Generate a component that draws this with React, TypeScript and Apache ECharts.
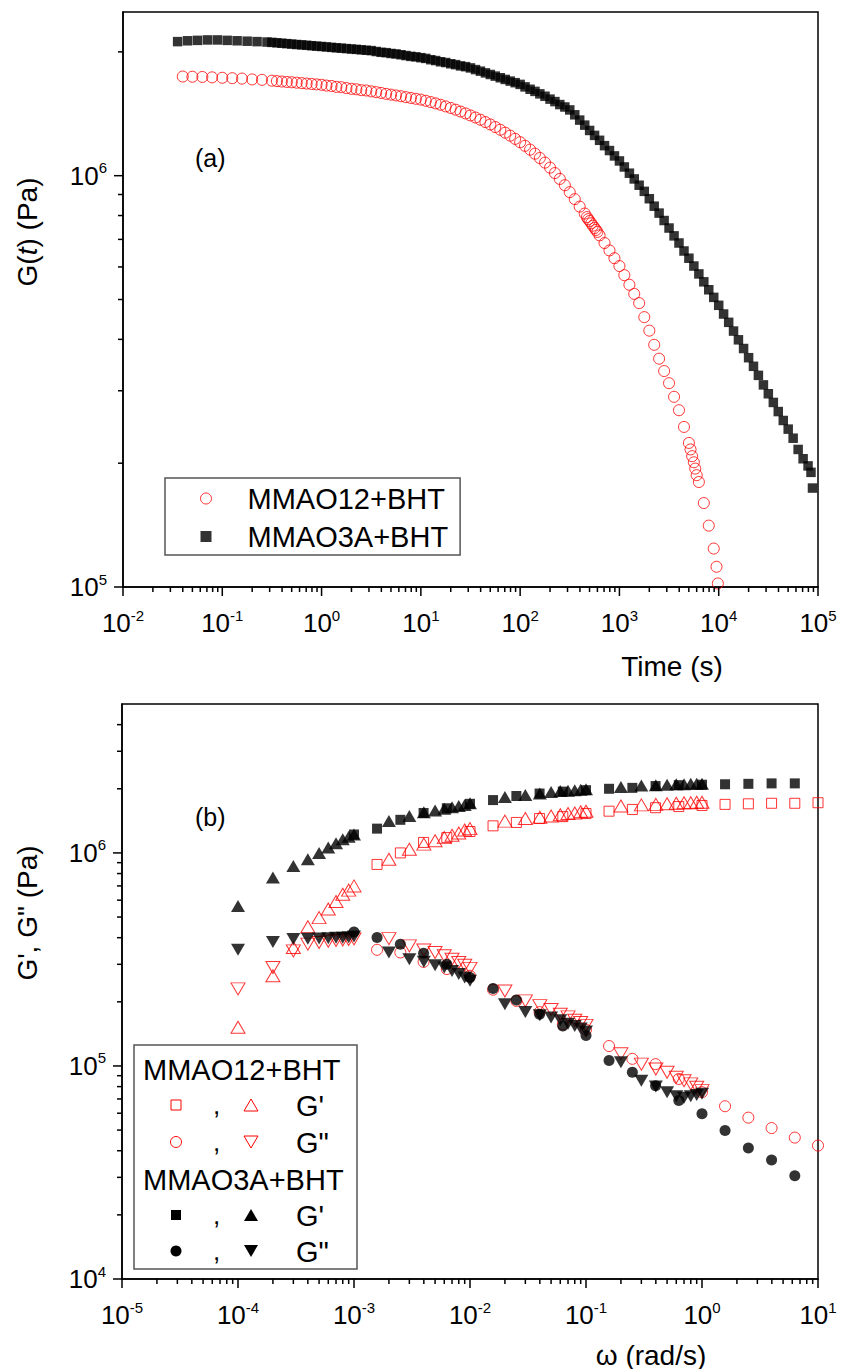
import React, { useEffect, useRef } from 'react';
import * as echarts from 'echarts';

const FONT = "'Liberation Sans', Arial, Helvetica, sans-serif";

// ---------- Panel (a): stress relaxation G(t) ----------
const redT = [
  0.04, 0.05, 0.063, 0.079, 0.1, 0.126, 0.158, 0.2, 0.251, 0.316,
  0.355, 0.398, 0.447, 0.501, 0.562, 0.631, 0.708, 0.794, 0.891, 1,
  1.12, 1.26, 1.41, 1.58, 1.78, 2, 2.24, 2.51, 2.82, 3.16,
  3.55, 3.98, 4.47, 5.01, 5.62, 6.31, 7.08, 7.94, 8.91, 10,
  11.2, 12.6, 14.1, 15.8, 17.8, 20, 22.4, 25.1, 28.2, 31.6,
  35.5, 39.8, 44.7, 50.1, 56.2, 63.1, 70.8, 79.4, 89.1, 100,
  112, 126, 141, 158, 178, 200, 224, 251, 282, 316,
  355, 398, 447, 470, 485, 501, 520, 540, 562, 580, 600,
  631, 708, 794, 891, 1000, 1120, 1260, 1410, 1580, 1780,
  2000, 2240, 2510, 2820, 3160, 3550, 3980, 4470, 5010, 5200, 5400,
  5620, 5800, 6000, 6310, 7080, 7940, 8910, 9500, 9800,
];
const redG = [
  1.742e6, 1.74e6, 1.738e6, 1.734e6, 1.73e6, 1.726e6, 1.722e6, 1.714e6, 1.71e6, 1.702e6,
  1.698e6, 1.694e6, 1.69e6, 1.687e6, 1.683e6, 1.679e6, 1.675e6, 1.671e6, 1.667e6, 1.663e6,
  1.656e6, 1.652e6, 1.644e6, 1.641e6, 1.633e6, 1.626e6, 1.622e6, 1.614e6, 1.611e6, 1.603e6,
  1.596e6, 1.589e6, 1.581e6, 1.574e6, 1.567e6, 1.56e6, 1.552e6, 1.545e6, 1.538e6, 1.531e6,
  1.521e6, 1.51e6, 1.499e6, 1.487e6, 1.474e6, 1.461e6, 1.447e6, 1.432e6, 1.417e6, 1.401e6,
  1.385e6, 1.368e6, 1.35e6, 1.332e6, 1.313e6, 1.293e6, 1.272e6, 1.251e6, 1.229e6, 1.206e6,
  1.182e6, 1.157e6, 1.131e6, 1.104e6, 1.076e6, 1.046e6, 1.015e6, 9.82e5, 9.48e5, 9.12e5,
  8.77e5, 8.41e5, 8.09e5, 7.93e5, 7.84e5, 7.76e5, 7.66e5, 7.56e5, 7.46e5, 7.38e5, 7.3e5,
  7.16e5, 6.86e5, 6.58e5, 6.3e5, 6.03e5, 5.73e5, 5.43e5, 5.16e5, 4.9e5, 4.53e5,
  4.2e5, 3.88e5, 3.59e5, 3.35e5, 3.13e5, 2.9e5, 2.69e5, 2.45e5, 2.24e5, 2.16e5, 2.08e5,
  2.01e5, 1.94e5, 1.87e5, 1.8e5, 1.6e5, 1.41e5, 1.24e5, 1.12e5, 1.02e5,
];

const blackT = [
  0.0355, 0.0447, 0.0562, 0.0708, 0.0891, 0.112, 0.141, 0.178, 0.224, 0.282,
  0.316, 0.355, 0.398, 0.447, 0.501, 0.562, 0.631, 0.708, 0.794, 0.891,
  1, 1.12, 1.26, 1.41, 1.58, 1.78, 2, 2.24, 2.51, 2.82,
  3.16, 3.55, 3.98, 4.47, 5.01, 5.62, 6.31, 7.08, 7.94, 8.91,
  10, 11.2, 12.6, 14.1, 15.8, 17.8, 20, 22.4, 25.1, 28.2,
  31.6, 35.5, 39.8, 44.7, 50.1, 56.2, 63.1, 70.8, 79.4, 89.1,
  100, 112, 126, 141, 158, 178, 200, 224, 251, 282,
  316, 355, 398, 447, 501, 562, 631, 708, 794, 891,
  1000, 1120, 1260, 1410, 1580, 1780, 2000, 2240, 2510, 2820,
  3160, 3550, 3980, 4470, 5010, 5620, 6310, 7080, 7940, 8910,
  10000, 11200, 12600, 14100, 15800, 17800, 20000, 22400, 25100, 28200,
  31600, 35500, 39800, 44700, 50100, 56200, 63100, 70800, 79400, 85000, 88000,
];
const blackG = [
  2.118e6, 2.128e6, 2.133e6, 2.138e6, 2.138e6, 2.133e6, 2.128e6, 2.123e6, 2.118e6, 2.113e6,
  2.109e6, 2.104e6, 2.099e6, 2.094e6, 2.089e6, 2.084e6, 2.08e6, 2.075e6, 2.07e6, 2.065e6,
  2.061e6, 2.056e6, 2.051e6, 2.046e6, 2.042e6, 2.037e6, 2.032e6, 2.028e6, 2.023e6, 2.018e6,
  2.014e6, 2.004e6, 1.995e6, 1.991e6, 1.982e6, 1.977e6, 1.968e6, 1.959e6, 1.95e6, 1.945e6,
  1.936e6, 1.928e6, 1.914e6, 1.905e6, 1.892e6, 1.884e6, 1.871e6, 1.862e6, 1.849e6, 1.841e6,
  1.828e6, 1.811e6, 1.795e6, 1.778e6, 1.762e6, 1.746e6, 1.73e6, 1.714e6, 1.698e6, 1.683e6,
  1.667e6, 1.644e6, 1.622e6, 1.603e6, 1.581e6, 1.56e6, 1.535e6, 1.514e6, 1.489e6, 1.469e6,
  1.445e6, 1.406e6, 1.365e6, 1.327e6, 1.288e6, 1.253e6, 1.219e6, 1.183e6, 1.151e6, 1.117e6,
  1.086e6, 1.05e6, 1.014e6, 9.82e5, 9.48e5, 9.16e5, 8.79e5, 8.43e5, 8.11e5, 7.78e5,
  7.46e5, 7.14e5, 6.86e5, 6.56e5, 6.3e5, 6.03e5, 5.77e5, 5.52e5, 5.28e5, 5.06e5,
  4.84e5, 4.61e5, 4.4e5, 4.19e5, 3.99e5, 3.8e5, 3.61e5, 3.44e5, 3.27e5, 3.1e5,
  2.95e5, 2.81e5, 2.67e5, 2.54e5, 2.42e5, 2.3e5, 2.16e5, 2.05e5, 1.97e5, 1.9e5, 1.74e5,
];

// ---------- Panel (b): dynamic moduli ----------
const redSweepW = [1.58e-3, 2.51e-3, 3.98e-3, 6.31e-3, 1e-2, 1.58e-2, 2.51e-2, 3.98e-2, 6.31e-2, 0.1, 0.158, 0.251, 0.398, 0.631, 1, 1.58, 2.51, 3.98, 6.31, 10];
const redGpSq = [8.83e5, 1.0e6, 1.12e6, 1.18e6, 1.26e6, 1.34e6, 1.39e6, 1.45e6, 1.48e6, 1.53e6, 1.57e6, 1.6e6, 1.63e6, 1.65e6, 1.67e6, 1.69e6, 1.7e6, 1.71e6, 1.71e6, 1.72e6];
const redGppCi = [3.51e5, 3.41e5, 3.08e5, 2.85e5, 2.65e5, 2.28e5, 2.02e5, 1.79e5, 1.57e5, 1.48e5, 1.24e5, 1.08e5, 1.02e5, 8.69e4, 7.53e4, 6.47e4, 5.72e4, 5.11e4, 4.61e4, 4.23e4];

const blackSweepW = [1e-3, 1.58e-3, 2.51e-3, 3.98e-3, 6.31e-3, 1e-2, 1.58e-2, 2.51e-2, 3.98e-2, 6.31e-2, 0.1, 0.158, 0.251, 0.398, 0.631, 1, 1.58, 2.51, 3.98, 6.31];
const blackGpSq = [1.22e6, 1.3e6, 1.43e6, 1.54e6, 1.62e6, 1.7e6, 1.77e6, 1.85e6, 1.9e6, 1.94e6, 1.97e6, 2.0e6, 2.02e6, 2.06e6, 2.08e6, 2.09e6, 2.1e6, 2.11e6, 2.12e6, 2.12e6];
const blackGppCi = [4.25e5, 4.01e5, 3.73e5, 3.38e5, 3.0e5, 2.6e5, 2.31e5, 2.04e5, 1.75e5, 1.54e5, 1.39e5, 1.06e5, 9.34e4, 8.08e4, 6.88e4, 5.96e4, 4.98e4, 4.12e4, 3.62e4, 3.05e4];

const omegaTri = [
  1e-4, 2e-4, 3e-4, 4e-4, 5e-4, 6e-4, 7e-4, 8e-4, 9e-4, 1e-3,
  2e-3, 3e-3, 4e-3, 5e-3, 6e-3, 7e-3, 8e-3, 9e-3, 1e-2,
  2e-2, 3e-2, 4e-2, 5e-2, 6e-2, 7e-2, 8e-2, 9e-2, 0.1,
  0.2, 0.3, 0.4, 0.5, 0.6, 0.7, 0.8, 0.9, 1,
];
const redGpTri = [
  1.52e5, 2.65e5, 3.6e5, 4.5e5, 4.97e5, 5.45e5, 5.91e5, 6.4e5, 6.69e5, 7.0e5,
  9.33e5, 1.04e6, 1.1e6, 1.14e6, 1.18e6, 1.21e6, 1.24e6, 1.28e6, 1.3e6,
  1.41e6, 1.45e6, 1.47e6, 1.49e6, 1.51e6, 1.53e6, 1.54e6, 1.56e6, 1.57e6,
  1.66e6, 1.68e6, 1.69e6, 1.7e6, 1.71e6, 1.72e6, 1.72e6, 1.73e6, 1.73e6,
];
const redGppTri = [
  2.3e5, 2.9e5, 3.47e5, 3.73e5, 3.8e5, 3.85e5, 3.88e5, 3.9e5, 3.92e5, 3.95e5,
  3.96e5, 3.66e5, 3.5e5, 3.41e5, 3.29e5, 3.17e5, 3.06e5, 2.97e5, 2.87e5,
  2.25e5, 2.02e5, 1.92e5, 1.84e5, 1.75e5, 1.7e5, 1.64e5, 1.6e5, 1.55e5,
  1.14e5, 1.02e5, 9.68e4, 9.34e4, 8.85e4, 8.53e4, 8.24e4, 7.95e4, 7.66e4,
];
const blackGpTri = [
  5.64e5, 7.66e5, 8.68e5, 9.34e5, 1.0e6, 1.06e6, 1.11e6, 1.16e6, 1.19e6, 1.22e6,
  1.41e6, 1.49e6, 1.55e6, 1.58e6, 1.61e6, 1.64e6, 1.66e6, 1.68e6, 1.71e6,
  1.83e6, 1.87e6, 1.9e6, 1.93e6, 1.95e6, 1.96e6, 1.97e6, 1.98e6, 1.99e6,
  2.04e6, 2.07e6, 2.08e6, 2.09e6, 2.1e6, 2.1e6, 2.11e6, 2.11e6, 2.11e6,
];
const blackGppTri = [
  3.51e5, 3.82e5, 3.94e5, 3.95e5, 3.97e5, 3.98e5, 4.0e5, 4.0e5, 4.02e5, 4.05e5,
  3.41e5, 3.17e5, 3.08e5, 2.97e5, 2.9e5, 2.79e5, 2.7e5, 2.6e5, 2.51e5,
  1.95e5, 1.79e5, 1.73e5, 1.69e5, 1.64e5, 1.58e5, 1.54e5, 1.5e5, 1.45e5,
  1.04e5, 8.53e4, 8.0e4, 7.53e4, 7.2e4, 7.1e4, 7.2e4, 7.3e4, 7.4e4,
];

// ---------- Axis ticks ----------
const topXMajor = [1e-2, 1e-1, 1, 10, 100, 1e3, 1e4, 1e5];
const topYMajor = [1e5, 1e6];
const botXMajor = [1e-5, 1e-4, 1e-3, 1e-2, 1e-1, 1, 10];
const botYMajor = [1e4, 1e5, 1e6];
const TOP_X = [1e-2, 1e5];
const TOP_Y = [1e5, 2.5e6];
const BOT_X = [1e-5, 10];
const BOT_Y = [1e4, 5e6];

function minors(majors: number[], max: number): number[] {
  const out: number[] = [];
  majors.forEach((m) => {
    for (let k = 2; k <= 9; k++) {
      const v = m * k;
      if (v < max * 0.999) out.push(v);
    }
  });
  return out;
}

const MAJOR_LEN = 9;
const MINOR_LEN = 5;

function tickData(xMajor: number[], yMajor: number[], xr: number[], yr: number[]) {
  const d: number[][] = [];
  xMajor.forEach((v) => d.push([v, yr[0], 0, MAJOR_LEN]));
  minors(xMajor, xr[1]).forEach((v) => d.push([v, yr[0], 0, MINOR_LEN]));
  yMajor.forEach((v) => d.push([xr[0], v, 1, MAJOR_LEN]));
  minors(yMajor, yr[1]).forEach((v) => d.push([xr[0], v, 1, MINOR_LEN]));
  return d;
}

const pairs = (xs: number[], ys: number[]) => xs.map((x, i) => [x, ys[i]]);

const powLabel = (v: number) => {
  const l = Math.log10(v);
  const e = Math.round(l);
  if (Math.abs(l - e) > 1e-6) return '';
  return `{b|10}{s|${e}}`;
};

const labelRich = {
  b: { fontSize: 26, fontFamily: FONT, color: '#000', lineHeight: 32 },
  s: { fontSize: 15, fontFamily: FONT, color: '#000', padding: [0, 0, 16, 0] },
};

const axisLineStyle = { show: true, lineStyle: { color: '#000', width: 1.5 } };

function logAxis(gridIndex: number, range: number[], margin: number) {
  return {
    type: 'log',
    logBase: 10,
    gridIndex,
    min: range[0],
    max: range[1],
    axisLine: axisLineStyle,
    axisTick: { show: false },
    minorTick: { show: false },
    splitLine: { show: false },
    axisLabel: { formatter: powLabel, margin, rich: labelRich, showMinLabel: true, showMaxLabel: true },
  };
}

const RED = '#ff0000';
const openStyle = { color: 'rgba(0,0,0,0)', borderColor: RED, borderWidth: 1 };
const fillStyle = { color: '#000', borderWidth: 0 };

function tickSeries(xi: number, data: number[][]) {
  return {
    type: 'custom',
    xAxisIndex: xi,
    yAxisIndex: xi,
    silent: true,
    clip: false,
    z: 5,
    data,
    renderItem: (_p: any, api: any) => {
      const p = api.coord([api.value(0), api.value(1)]);
      const dir = api.value(2);
      const len = api.value(3);
      const shape = dir === 0
        ? { x1: p[0], y1: p[1], x2: p[0], y2: p[1] + len }
        : { x1: p[0] - len, y1: p[1], x2: p[0], y2: p[1] };
      return { type: 'line', shape, style: { stroke: '#000', lineWidth: 1.5 } };
    },
  };
}

function scatter(name: string, xi: number, data: number[][], symbol: string, size: any, style: any, rotate = 0) {
  return {
    type: 'scatter',
    name,
    xAxisIndex: xi,
    yAxisIndex: xi,
    data,
    symbol,
    symbolSize: size,
    symbolRotate: rotate,
    itemStyle: style,
    silent: true,
    z: 3,
  };
}

const txt = (text: string, x: number, y: number, size: number, align = 'left', extra: any = {}) => ({
  type: 'text',
  x,
  y,
  z: 100,
  silent: true,
  ...extra,
  style: { text, fontSize: size, fontFamily: FONT, fill: '#000', align, verticalAlign: 'middle', ...(extra.style || {}) },
});

const openR = { fill: 'none', stroke: RED, lineWidth: 1 };
const solidB = { fill: '#000', stroke: '#000', lineWidth: 0 };

function legendB() {
  const sx = 176;
  const tx = 251;
  const rows = [1105, 1142, 1215, 1251];
  const g: any[] = [
    { type: 'rect', z: 90, shape: { x: 134, y: 1045, width: 223, height: 224 }, style: { fill: '#fff', stroke: '#555', lineWidth: 1.5 } },
    txt('MMAO12+BHT', 143, 1070, 29),
    txt('MMAO3A+BHT', 143, 1180, 29),
  ];
  const up = (cx: number, cy: number) => [[cx, cy - 6], [cx - 7, cy + 6], [cx + 7, cy + 6]];
  const down = (cx: number, cy: number) => [[cx - 7, cy - 6], [cx + 7, cy - 6], [cx, cy + 6]];
  g.push({ type: 'rect', z: 100, shape: { x: sx - 5, y: rows[0] - 5, width: 10, height: 10 }, style: openR });
  g.push({ type: 'polygon', z: 100, shape: { points: up(tx, rows[0]) }, style: openR });
  g.push({ type: 'circle', z: 100, shape: { cx: sx, cy: rows[1], r: 5.5 }, style: openR });
  g.push({ type: 'polygon', z: 100, shape: { points: down(tx, rows[1]) }, style: openR });
  g.push({ type: 'rect', z: 100, shape: { x: sx - 5, y: rows[2] - 5, width: 10, height: 10 }, style: solidB });
  g.push({ type: 'polygon', z: 100, shape: { points: up(tx, rows[2]) }, style: solidB });
  g.push({ type: 'circle', z: 100, shape: { cx: sx, cy: rows[3], r: 5.5 }, style: solidB });
  g.push({ type: 'polygon', z: 100, shape: { points: down(tx, rows[3]) }, style: solidB });
  rows.forEach((r, i) => {
    g.push(txt(',', 213, r, 26));
    g.push(txt(i % 2 === 0 ? "G'" : 'G"', 296, r + 1, 29));
  });
  return g;
}

export default function App() {
  const ref = useRef<HTMLDivElement>(null);
  useEffect(() => {
    if (!ref.current) return;
    const chart = echarts.init(ref.current, undefined, { renderer: 'svg' });
    const option: any = {
      animation: false,
      backgroundColor: '#fff',
      textStyle: { fontFamily: FONT },
      grid: [
        { left: 123, top: 12, width: 695, height: 575, show: true, borderColor: '#000', borderWidth: 1.5, containLabel: false, outerBoundsMode: 'none' },
        { left: 122, top: 704, width: 696, height: 575, show: true, borderColor: '#000', borderWidth: 1.5, containLabel: false, outerBoundsMode: 'none' },
      ],
      xAxis: [logAxis(0, TOP_X, 20), logAxis(1, BOT_X, 20)],
      yAxis: [logAxis(0, TOP_Y, 16), logAxis(1, BOT_Y, 16)],
      legend: {
        data: ['MMAO12+BHT', 'MMAO3A+BHT'],
        orient: 'vertical',
        left: 165,
        top: 478,
        padding: [6, 12, 4, 35],
        itemWidth: 11,
        itemHeight: 11,
        itemGap: 9,
        backgroundColor: '#fff',
        borderColor: '#555',
        borderWidth: 1.5,
        selectedMode: false,
        itemStyle: { borderWidth: 1 },
        textStyle: { fontSize: 29, fontFamily: FONT, color: '#000', padding: [0, 0, 0, 31] },
      },
      series: [
        tickSeries(0, tickData(topXMajor, topYMajor, TOP_X, TOP_Y)),
        tickSeries(1, tickData(botXMajor, botYMajor, BOT_X, BOT_Y)),
        scatter('MMAO12+BHT', 0, pairs(redT, redG), 'circle', 11, openStyle),
        scatter('MMAO3A+BHT', 0, pairs(blackT, blackG), 'rect', 9.5, fillStyle),
        scatter("MMAO12+BHT G' (sq)", 1, pairs(redSweepW, redGpSq), 'rect', 10, openStyle),
        scatter("MMAO12+BHT G' (tri)", 1, pairs(omegaTri, redGpTri), 'triangle', [14, 12], openStyle),
        scatter('MMAO12+BHT G" (ci)', 1, pairs(redSweepW, redGppCi), 'circle', 11, openStyle),
        scatter('MMAO12+BHT G" (tri)', 1, pairs(omegaTri, redGppTri), 'triangle', [14, 12], openStyle, 180),
        scatter("MMAO3A+BHT G' (sq)", 1, pairs(blackSweepW, blackGpSq), 'rect', 10, fillStyle),
        scatter("MMAO3A+BHT G' (tri)", 1, pairs(omegaTri, blackGpTri), 'triangle', [14, 12], fillStyle),
        scatter('MMAO3A+BHT G" (ci)', 1, pairs(blackSweepW, blackGppCi), 'circle', 11, fillStyle),
        scatter('MMAO3A+BHT G" (tri)', 1, pairs(omegaTri, blackGppTri), 'triangle', [14, 12], fillStyle, 180),
      ],
      graphic: [
        txt('(a)', 195, 158, 25),
        txt('(b)', 195, 817, 25),
        txt('Time (s)', 672, 666, 28, 'center'),
        txt('ω (rad/s)', 651, 1355, 28, 'center'),
        {
          type: 'text',
          x: 27,
          y: 232,
          rotation: Math.PI / 2,
          z: 100,
          silent: true,
          style: {
            text: '{n|G(}{i|t}{n|) (Pa)}',
            align: 'center',
            verticalAlign: 'middle',
            rich: {
              n: { fontSize: 28, fontFamily: FONT, fill: '#000' },
              i: { fontSize: 28, fontFamily: FONT, fontStyle: 'italic', fill: '#000' },
            },
          },
        },
        txt('G\', G" (Pa)', 27, 913, 28, 'center', { rotation: Math.PI / 2 }),
        ...legendB(),
      ],
    };
    chart.setOption(option);
    return () => chart.dispose();
  }, []);
  return <div ref={ref} style={{ position: 'absolute', left: 0, top: 0, width: 846, height: 1369 }} />;
}
